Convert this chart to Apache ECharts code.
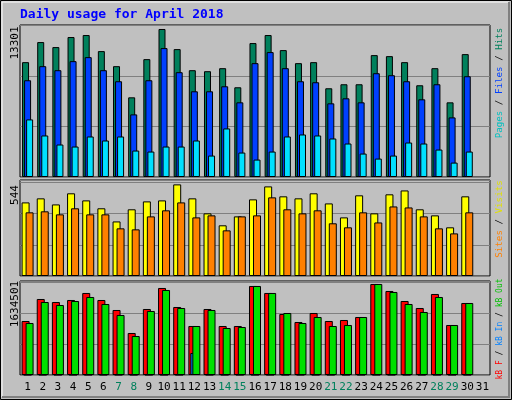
<!DOCTYPE html>
<html>
<head>
<meta charset="utf-8">
<script src="https://cdn.jsdelivr.net/npm/echarts@6/dist/echarts.min.js"></script>
<style>
  html, body { margin: 0; padding: 0; background: #c0c0c0; }
  #main { width: 512px; height: 400px; }
</style>
</head>
<body>
<div id="main"></div>
<script>
// 日期
var days = [];
for (var d = 1; d <= 31; d++) days.push(String(d));
var weekendDays = ["7", "8", "14", "15", "21", "22", "28", "29"];

// 上: Hits / Files / Pages
var hits = [10321, 12126, 11675, 12578, 12758, 11314, 9960, 7161, 10592, 13301, 11494, 9599, 9508, 9779, 8064,
  12036, 12758, 11404, 10231, 10321, 7974, 8335, 8335, 10953, 10862, 10321, 8245, 9779, 6710, 11043, null];
var files = [8696, 9960, 9599, 10411, 10772, 9599, 8606, 5627, 8696, 11585, 9418, 7703, 7703, 8154, 6710,
  10231, 11224, 9779, 8606, 8516, 6620, 7071, 6710, 9328, 9147, 8606, 6981, 8335, 5356, 9057, null];
var pages = [5175, 3731, 2919, 2738, 3641, 3280, 3641, 2377, 2287, 2738, 2738, 3280, 1926, 4363, 2197,
  1565, 2287, 3641, 3821, 3731, 3460, 3009, 2106, 1655, 1926, 3099, 3009, 2467, 1294, 2287, null];

// 中: Visits / Sites
var visits = [437, 461, 425, 491, 449, 402, 324, 396, 443, 449, 544, 461, 372, 301, 354,
  455, 532, 473, 461, 491, 431, 348, 479, 372, 485, 508, 396, 360, 289, 473, null];
var sites = [378, 384, 366, 402, 366, 366, 283, 277, 354, 390, 437, 348, 360, 271, 354,
  360, 467, 396, 372, 390, 313, 289, 378, 318, 413, 407, 354, 283, 253, 378, null];

// 下: kB F / kB In / kB Out
var kbF = [969894, 1365036, 1311153, 1347075, 1472802, 1347075, 1167465, 754362, 1185426, 1562607, 1221348, 880089, 1185426, 880089, 880089,
  1598529, 1472802, 1095621, 951933, 1113582, 969894, 987855, 1041738, 1634501, 1508724, 1329114, 1203387, 1454841, 898050, 1293192, null];
var kbIn = [4000, 4000, 4000, 4000, 4000, 4000, 4000, 4000, 4000, 4000, 4000, 395142, 4000, 4000, 4000,
  4000, 4000, 4000, 4000, 4000, 4000, 4000, 4000, 4000, 4000, 4000, 4000, 4000, 4000, 4000, null];
var kbOut = [933972, 1311153, 1257270, 1329114, 1400958, 1275231, 1077660, 700479, 1149504, 1526685, 1203387, 880089, 1167465, 844167, 862128,
  1598529, 1472802, 1113582, 933972, 1041738, 880089, 898050, 1041738, 1634501, 1490763, 1275231, 1131543, 1400958, 898050, 1293192, null];

var chart = echarts.init(document.getElementById("main"));
var mono = "DejaVu Sans Mono";

function bar(name, data, color, idx, width, gap) {
  return {
    name: name,
    type: "bar",
    xAxisIndex: idx,
    yAxisIndex: idx,
    data: data,
    barWidth: width,
    barGap: gap,
    silent: true,
    animation: false,
    itemStyle: { color: color, borderColor: "#000", borderWidth: 1 },
  };
}

function xAx(idx, showLabel) {
  return {
    type: "category",
    gridIndex: idx,
    data: days,
    axisLine: { show: false },
    axisTick: { show: false },
    splitLine: { show: false },
    axisLabel: {
      show: showLabel,
      fontFamily: mono,
      fontSize: 11,
      margin: 7,
      interval: 0,
      color: function (v) {
        return weekendDays.indexOf(v) >= 0 ? "#00805c" : "#000";
      },
    },
  };
}

function yAx(idx, max, interval) {
  return {
    type: "value",
    gridIndex: idx,
    min: 0,
    max: max,
    interval: interval,
    axisLine: { show: false },
    axisTick: { show: false },
    axisLabel: { show: false },
    splitLine: { show: true, lineStyle: { color: "#808080", width: 1 } },
  };
}

function vtext(x, y, size, parts) {
  // 竖排文字，从下往上
  var rich = {};
  var str = "";
  parts.forEach(function (p, i) {
    rich["s" + i] = { fill: p[1], fontFamily: mono, fontSize: size };
    str += "{s" + i + "|" + p[0] + "}";
  });
  return {
    type: "text",
    x: x,
    y: y,
    rotation: Math.PI / 2,
    style: { text: str, rich: rich, align: "center", verticalAlign: "middle", fontFamily: mono, fontSize: size },
  };
}

var gridStyle = { show: true, backgroundColor: "#c0c0c0", borderColor: "#000", borderWidth: 1 };

var option = {
  backgroundColor: "#c0c0c0",
  animation: false,
  grid: [
    Object.assign({ left: 20, right: 22, top: 25, height: 152 }, gridStyle),
    Object.assign({ left: 20, right: 22, top: 180, height: 96 }, gridStyle),
    Object.assign({ left: 20, right: 22, top: 281, height: 94 }, gridStyle),
  ],
  xAxis: [xAx(0, false), xAx(1, false), xAx(2, true)],
  yAxis: [yAx(0, 13660, 4540), yAx(1, 570, 185), yAx(2, 1688000, 554000)],
  series: [
    bar("Hits", hits, "#00805c", 0, 7, "-71%"),
    bar("Files", files, "#0040ff", 0, 7, "-71%"),
    bar("Pages", pages, "#00e0ff", 0, 7, "-71%"),
    bar("Visits", visits, "#ffff00", 1, 8, "-50%"),
    bar("Sites", sites, "#ff8000", 1, 8, "-50%"),
    bar("kB F", kbF, "#ff0000", 2, 8, "-75%"),
    bar("kB In", kbIn, "#0080ff", 2, 8, "-75%"),
    bar("kB Out", kbOut, "#00e000", 2, 8, "-75%"),
  ],
  graphic: [
    { type: "rect", shape: { x: 0.5, y: 0.5, width: 511, height: 399 }, style: { fill: null, stroke: "#000", lineWidth: 1 } },
    { type: "polyline", shape: { points: [[2, 397], [2, 2], [509, 2]] }, style: { stroke: "#fff", lineWidth: 1, fill: null } },
    { type: "polyline", shape: { points: [[509, 2], [509, 397], [2, 397]] }, style: { stroke: "#808080", lineWidth: 2, fill: null } },
    {
      type: "text", x: 20, y: 15,
      style: { text: "Daily usage for April 2018", fill: "#0000ff", fontFamily: mono, fontWeight: "bold", fontSize: 13, verticalAlign: "middle" },
    },
    { type: "text", x: 15, y: 43, rotation: Math.PI / 2, style: { text: "13301", fill: "#000", fontFamily: mono, fontSize: 11, align: "center", verticalAlign: "middle" } },
    { type: "text", x: 15, y: 195, rotation: Math.PI / 2, style: { text: "544", fill: "#000", fontFamily: mono, fontSize: 11, align: "center", verticalAlign: "middle" } },
    { type: "text", x: 15, y: 304, rotation: Math.PI / 2, style: { text: "1634501", fill: "#000", fontFamily: mono, fontSize: 11, align: "center", verticalAlign: "middle" } },
    vtext(500, 83, 9.2, [["Pages", "#00c0c0"], [" / ", "#000"], ["Files", "#0040ff"], [" / ", "#000"], ["Hits", "#00805c"]]),
    vtext(500, 219, 9.2, [["Sites", "#ff8000"], [" / ", "#000"], ["Visits", "#e0e000"]]),
    vtext(500, 329, 8, [["kB F", "#ff0000"], [" / ", "#000"], ["kB In", "#0080ff"], [" / ", "#000"], ["kB Out", "#00c000"]]),
  ],
};

chart.setOption(option);
</script>
</body>
</html>
